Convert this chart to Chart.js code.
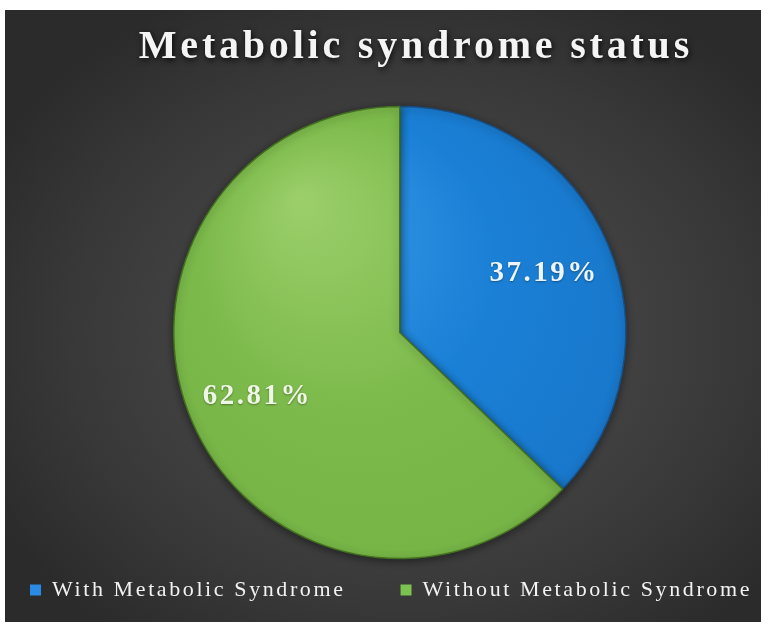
<!DOCTYPE html>
<html><head><meta charset="utf-8">
<script src="https://cdn.jsdelivr.net/npm/chart.js@4"></script>
<style>
html,body{margin:0;padding:0;background:#fff;width:761px;height:622px;overflow:hidden}
#wrap{position:absolute;left:5px;top:10px;width:756px;height:612px;
background:radial-gradient(ellipse 62% 62% at 53% 53%, #4b4b4b 0%, #444444 40%, #383838 72%, #2b2b2b 100%);}
canvas{display:block}
</style></head><body>
<div id="wrap"><canvas id="c" width="756" height="612"></canvas></div>
<script>
// ---- data ----
const chartTitle = 'Metabolic syndrome status';
const categories = ['With Metabolic Syndrome', 'Without Metabolic Syndrome'];
const percentages = [37.19, 62.81];
const percentLabels = percentages.map(v => v.toFixed(2) + '%');

// ---- styles ----
const SERIF = '"Liberation Serif", "Times New Roman", serif';
const PIE_R = 226;
const fills = [['#3a9ae8', '#1a80d6', '#1874c6'], ['#9ccf6a', '#7cba4b', '#74b244']];
const legendColors = ['#2a8ae6', '#7cc24e'];
const borderColors = ['#164f86', '#42701f'];

function sliceFill(ctx) {
  const chart = ctx.chart, a = chart.chartArea, i = ctx.dataIndex;
  if (!a) return fills[i][1];
  const cx = (a.left + a.right) / 2, cy = (a.top + a.bottom) / 2;
  const g = chart.ctx.createRadialGradient(cx - 0.45 * PIE_R, cy - 0.6 * PIE_R, 0, cx, cy, PIE_R * 1.3);
  g.addColorStop(0, fills[i][0]);
  g.addColorStop(0.5, fills[i][1]);
  g.addColorStop(1, fills[i][2]);
  return g;
}

const spacingPlugin = {
  id: 'spacing',
  beforeLayout(chart) { chart.ctx.letterSpacing = '2.6px'; },
  beforeDraw(chart) { chart.ctx.letterSpacing = '2.6px'; }
};

const pieDecor = {
  id: 'pieDecor',
  beforeDatasetsDraw(chart) {
    const c = chart.ctx; c.save();
    c.shadowColor = 'rgba(0,0,0,0.45)'; c.shadowBlur = 8; c.shadowOffsetY = 2;
  },
  afterDatasetsDraw(chart) {
    const c = chart.ctx; c.restore();
    c.save();
    c.font = 'bold 29px ' + SERIF;
    c.letterSpacing = '2.5px';
    c.textAlign = 'center';
    c.textBaseline = 'alphabetic';
    c.shadowColor = 'rgba(0,0,0,0.35)'; c.shadowBlur = 2; c.shadowOffsetY = 1;
    const meta = chart.getDatasetMeta(0);
    meta.data.forEach((arc, i) => {
      const p = arc.getProps(['x', 'y', 'startAngle', 'endAngle', 'outerRadius'], true);
      const mid = (p.startAngle + p.endAngle) / 2, d = p.outerRadius * 0.69;
      c.fillStyle = i === 0 ? '#eef5ff' : '#eef6e6';
      c.fillText(percentLabels[i], p.x + Math.cos(mid) * d + 1, p.y + Math.sin(mid) * d + 10);
    });
    c.restore();
  }
};

const titlePlugin = {
  id: 'sketchTitle',
  afterDraw(chart) {
    const c = chart.ctx; c.save();
    const ls = 3.8;
    c.font = 'bold 40px ' + SERIF;
    c.letterSpacing = ls + 'px';
    c.fillStyle = '#f4f4f4';
    c.textAlign = 'left';
    c.textBaseline = 'alphabetic';
    c.shadowColor = 'rgba(0,0,0,0.9)'; c.shadowBlur = 6; c.shadowOffsetX = 1; c.shadowOffsetY = 2;
    const w = c.measureText(chartTitle).width;
    c.fillText(chartTitle, chart.width / 2 + 31 - (w - ls) / 2, 48);
    c.restore();
  }
};

new Chart(document.getElementById('c'), {
  type: 'pie',
  data: {
    labels: categories,
    datasets: [{
      data: percentages,
      backgroundColor: sliceFill,
      borderColor: borderColors,
      borderWidth: 1.5,
      radius: PIE_R,
      clip: false
    }]
  },
  options: {
    responsive: false,
    maintainAspectRatio: false,
    animation: false,
    events: [],
    layout: { padding: { top: 131, bottom: 11, left: -30, right: -62 } },
    plugins: {
      tooltip: { enabled: false },
      title: { display: false },
      // empty left-hand box: only reserves room so the pie sits right of centre
      subtitle: {
        display: true, text: '', position: 'left', fullSize: false,
        font: { size: 1 }, padding: { top: 31, bottom: 31.3 }
      },
      legend: {
        position: 'bottom',
        align: 'start',
        labels: {
          font: { family: SERIF, size: 22 },
          color: '#f2f2f2',
          boxWidth: 11,
          boxHeight: 11,
          padding: 55,
          generateLabels(chart) {
            const items = Chart.overrides.pie.plugins.legend.labels.generateLabels(chart);
            items.forEach((it, i) => {
              it.fillStyle = legendColors[i];
              it.strokeStyle = 'rgba(0,0,0,0)';
              it.lineWidth = 0;
              it.fontColor = '#f2f2f2';
            });
            return items;
          }
        }
      }
    }
  },
  plugins: [spacingPlugin, pieDecor, titlePlugin]
});
</script>
</body></html>
